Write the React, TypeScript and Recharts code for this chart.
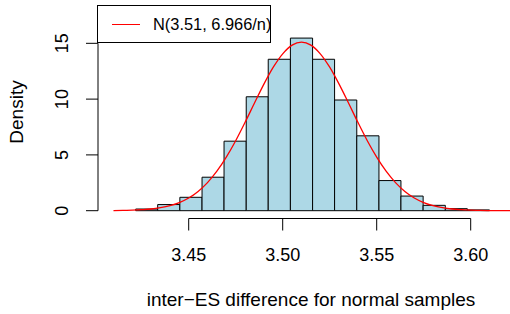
import React from 'react';
import { ComposedChart, Line, XAxis, YAxis, ReferenceArea, ReferenceLine, Legend } from 'recharts';

// histogram bins (break points and density per bin)
const binEdges = [3.4218, 3.4335, 3.4453, 3.4571, 3.4688, 3.4806, 3.4923, 3.5041, 3.5159, 3.5276, 3.5394, 3.5512, 3.5629, 3.5747, 3.5865, 3.5982, 3.61];
const binDensity = [0.15, 0.55, 1.2, 3.0, 6.23, 10.21, 13.57, 15.47, 13.57, 9.92, 6.71, 2.7, 1.31, 0.48, 0.18, 0.07];

// red curve
const curveX = [3.41, 3.415, 3.42, 3.425, 3.43, 3.435, 3.44, 3.445, 3.45, 3.455, 3.46, 3.465, 3.47, 3.475, 3.48, 3.485, 3.49, 3.495, 3.5, 3.505, 3.51,
    3.515, 3.52, 3.525, 3.53, 3.535, 3.54, 3.545, 3.55, 3.555, 3.56, 3.565, 3.57, 3.575, 3.58, 3.585, 3.59, 3.595, 3.6, 3.605, 3.61, 3.615, 3.62, 3.625];
const curveY = [0.01, 0.02, 0.05, 0.09, 0.15, 0.27, 0.45, 0.73, 1.14, 1.73, 2.52, 3.54, 4.8, 6.27, 7.92, 9.65, 11.34, 12.86, 14.06, 14.84, 15.11,
    14.84, 14.06, 12.86, 11.34, 9.65, 7.92, 6.27, 4.8, 3.54, 2.52, 1.73, 1.14, 0.73, 0.45, 0.27, 0.15, 0.09, 0.05, 0.02, 0.01, 0.005, 0.002, 0.001];

const xTicks = [3.45, 3.5, 3.55, 3.6];
const yTicks = [0, 5, 10, 15];
const legendLabel = 'N(3.51, 6.966/n)';

const X_DOMAIN: [number, number] = [3.40176, 3.62835];
const Y_DOMAIN: [number, number] = [-0.7, 18.39];
const FONT = '"Liberation Sans", Arial, Helvetica, sans-serif';

const curveData = curveX.map((x, i) => ({ x, y: curveY[i] }));

const YTick = (props: any) => {
    const { x, y, payload } = props;
    const tx = x - 15.5;
    return (
        <text x={tx} y={y} transform={`rotate(-90 ${tx} ${y})`} textAnchor="middle" fontSize={18} fill="#000" fontFamily={FONT}>
            {payload.value}
        </text>
    );
};

const yLabel = (props: any) => {
    const vb = props.viewBox;
    const cx = vb.x + 23;
    const cy = vb.y + vb.height / 2;
    return (
        <text x={cx} y={cy} transform={`rotate(-90 ${cx} ${cy})`} textAnchor="middle" fontSize={19} fill="#000" fontFamily={FONT}>
            Density
        </text>
    );
};

const xLabel = (props: any) => {
    const vb = props.viewBox;
    return (
        <text x={vb.x + vb.width / 2} y={vb.y + 87} textAnchor="middle" fontSize={19} fill="#000" fontFamily={FONT}>
            inter−ES difference for normal samples
        </text>
    );
};

const LegendBox = () => (
    <div style={{
        width: 172, height: 36, border: '1px solid #000', background: '#fff', boxSizing: 'content-box',
        position: 'relative', fontFamily: FONT, fontSize: 16.4, color: '#000',
    }}>
        <div style={{ position: 'absolute', left: 14, top: 18, width: 28, height: 0, borderTop: '1.3px solid #ff0000' }} />
        <div style={{ position: 'absolute', left: 55, top: 0, lineHeight: '37px', whiteSpace: 'nowrap' }}>{legendLabel}</div>
    </div>
);

const App: React.FC = () => {
    return (
        <div style={{ position: 'absolute', left: 0, top: 0, width: 510, height: 314, overflow: 'hidden', background: '#fff' }}>
            <ComposedChart width={530} height={314} data={curveData} margin={{ top: 5.5, right: 6, left: 0, bottom: 5.5 }}>
                <XAxis
                    dataKey="x"
                    type="number"
                    domain={X_DOMAIN}
                    ticks={xTicks}
                    tickFormatter={(v: number) => v.toFixed(2)}
                    axisLine={false}
                    tickLine={{ stroke: '#000' }}
                    tickSize={12}
                    tickMargin={17.5}
                    height={90}
                    tick={{ fill: '#000', fontSize: 18, fontFamily: FONT }}
                    label={xLabel}
                />
                <YAxis
                    type="number"
                    domain={Y_DOMAIN}
                    ticks={yTicks}
                    axisLine={false}
                    tickLine={{ stroke: '#000' }}
                    tickSize={12}
                    width={98}
                    tick={<YTick />}
                    label={yLabel}
                />
                {binDensity.map((d, i) => (
                    <ReferenceArea
                        key={`bin-${i}`}
                        x1={binEdges[i]}
                        x2={binEdges[i + 1]}
                        y1={0}
                        y2={d}
                        fill="#add8e6"
                        fillOpacity={1}
                        stroke="#000"
                        strokeWidth={1}
                        ifOverflow="visible"
                    />
                ))}
                <ReferenceLine segment={[{ x: 3.45, y: Y_DOMAIN[0] }, { x: 3.6, y: Y_DOMAIN[0] }]} stroke="#000" ifOverflow="visible" />
                <ReferenceLine segment={[{ x: X_DOMAIN[0], y: 0 }, { x: X_DOMAIN[0], y: 15 }]} stroke="#000" ifOverflow="visible" />
                <Line
                    dataKey="y"
                    type="monotone"
                    stroke="#ff0000"
                    strokeWidth={1.3}
                    dot={false}
                    activeDot={false}
                    isAnimationActive={false}
                />
                <Legend
                    layout="vertical"
                    align="center"
                    verticalAlign="middle"
                    content={<LegendBox />}
                    wrapperStyle={{ left: 97, top: 5, width: 174, height: 38 }}
                />
            </ComposedChart>
        </div>
    );
};

export default App;
